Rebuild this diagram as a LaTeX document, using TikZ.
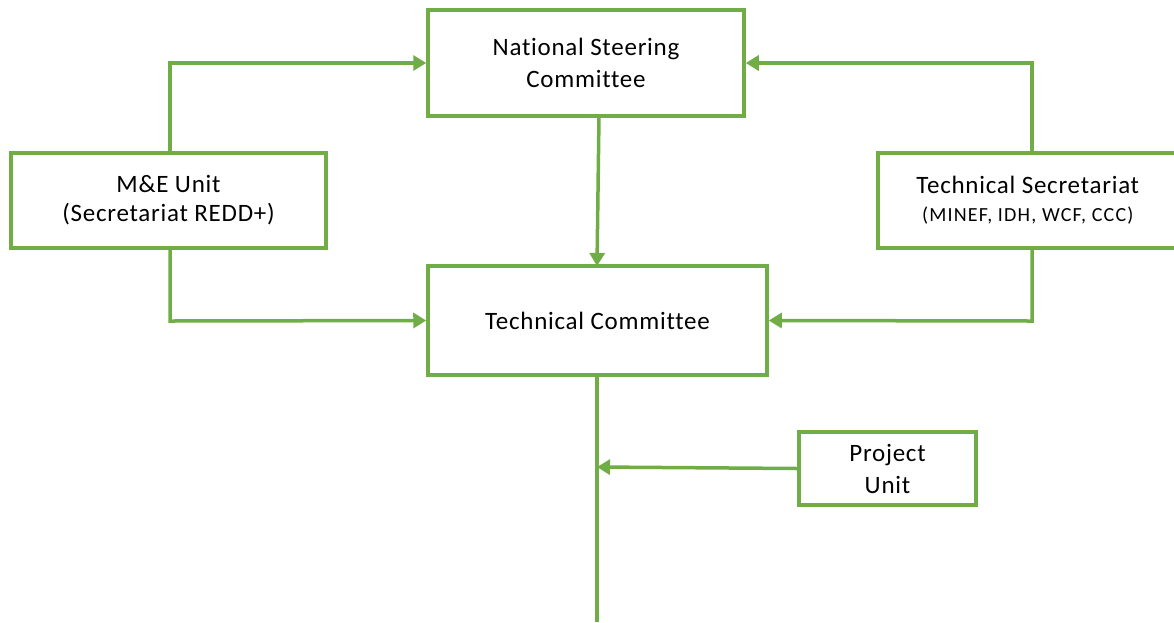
\documentclass[tikz,border=0pt]{standalone}
\usepackage{fontspec}
\setmainfont{Carlito}[RawFeature=-liga,LetterSpace=3]
\newfontfamily\subfont{Carlito}[RawFeature=-liga,LetterSpace=6]
\usetikzlibrary{arrows.meta}
\definecolor{grn}{HTML}{70AD47}
\begin{document}
\begin{tikzpicture}[x=1pt,y=-1pt,
  box/.style={draw=grn,line width=3.5pt,fill=white,inner sep=0pt,align=center,font=\fontsize{25}{32}\selectfont},
  conn/.style={draw=grn,line width=3.5pt,-{Triangle[length=13pt,width=15pt]}},
  plain/.style={draw=grn,line width=3.5pt}]
\useasboundingbox (0,0) rectangle (1174,622);
\node[box,minimum width=316pt,minimum height=106pt] (nsc) at (586,63) {National Steering\\Committee};
\node[box,minimum width=315pt,minimum height=95pt] (me) at (168.5,200.5) {\raisebox{-3pt}{M\&E Unit}\\(Secretariat REDD+)};
\node[box,minimum width=300pt,minimum height=95pt,anchor=west] (ts) at (876,200.5) {\raisebox{-4pt}{Technical Secretariat}\\{\subfont\fontsize{20}{28}\selectfont (MINEF, IDH, WCF, CCC)}};
\node[box,minimum width=339pt,minimum height=109pt] (tc) at (597.5,320.5) {Technical Committee};
\node[box,minimum width=177pt,minimum height=73pt] (pu) at (887.5,468.5) {Project\\Unit};
\coordinate (mt) at (170,63);
\coordinate (mb) at (170,321);
\coordinate (tt) at (1032,63);
\coordinate (tb) at (1032,321);
\coordinate (jn) at (597,467);
\coordinate (end) at (597,622);
\path[conn] (me.north -| mt) -- (mt) -- (nsc.west);
\path[conn] (me.south -| mb) -- (mb) -- (tc.west);
\path[conn] (ts.north -| tt) -- (tt) -- (nsc.east);
\path[conn] (ts.south -| tb) -- (tb) -- (tc.east);
\path[conn] (599,116) -- (597,266);
\path[plain] (tc.south -| jn) -- (end);
\path[conn] (pu.west) -- (jn);
\end{tikzpicture}
\end{document}
